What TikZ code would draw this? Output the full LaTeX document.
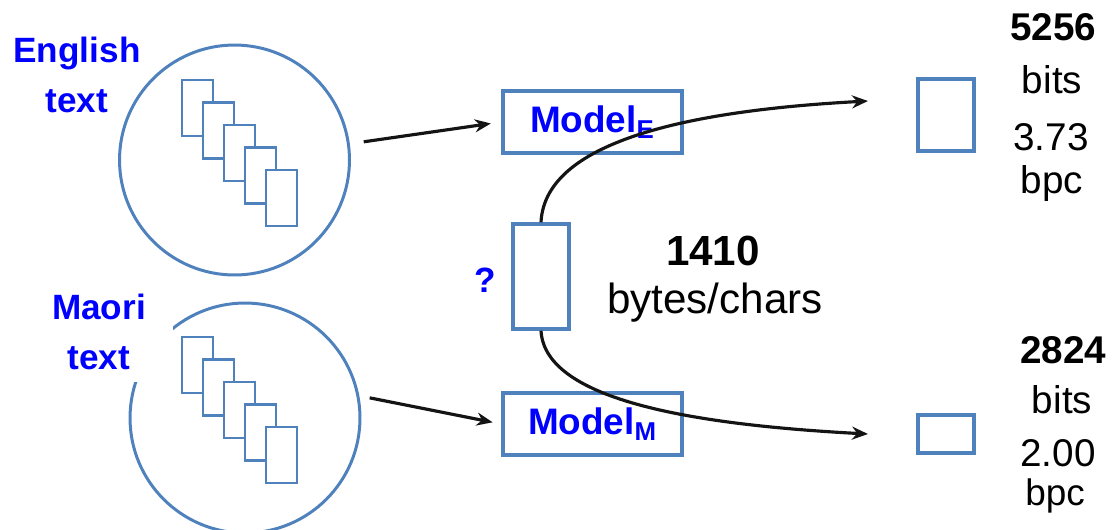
\documentclass[tikz,border=0pt]{standalone}
\usepackage{fontspec}
\setmainfont{Liberation Sans}
\usetikzlibrary{arrows.meta,calc}
\definecolor{steel}{RGB}{79,129,189}
\definecolor{pureblue}{RGB}{0,0,255}
\definecolor{ink}{RGB}{20,20,20}
\tikzset{
  >={Stealth[length=3.2mm,width=2.6mm]},
  corpus/.style={circle,draw=steel,line width=1.7pt,minimum size=4.6cm,inner sep=0pt},
  langtag/.style={text=pureblue,align=center,inner sep=0pt,
    font=\fontsize{20}{28.5}\selectfont\bfseries},
  model/.style={draw=steel,line width=2pt,fill=white,minimum width=3.58cm,
    minimum height=1.24cm,text=pureblue,font=\fontsize{21}{24}\selectfont\bfseries},
  slot/.style={draw=steel,line width=2pt,fill=white,inner sep=0pt},
  figure/.style={text=black,anchor=base,inner sep=0pt,font=\fontsize{#1}{#1}\selectfont},
  figure/.default=22,
  bold figure/.style={figure,font=\fontsize{#1}{#1}\selectfont\bfseries},
  bold figure/.default=22,
  flow/.style={->,line width=1.8pt,draw=ink},
  % pictograms
  pics/docstack/.style={code={
    \foreach \i in {0,...,4}
      \filldraw[fill=white,draw=steel,line width=1.6pt] (21*\i,22.5*\i) rectangle ++(31,56);
  }},
}
\begin{document}
\begin{tikzpicture}[x=0.02cm,y=-0.02cm]
  \useasboundingbox (0,0) rectangle (1118,529);
  \node[corpus] (eng) at (234.5,160) {};
  \node[corpus] (mao) at (245,418) {};
  \pic at (182,80) {docstack};
  \pic at (182,337) {docstack};
  \node[langtag] (engtag) at (77,75) {English\\text};
  \node[langtag,fill=white,minimum width=2.96cm,minimum height=2cm] (maotag) at (99,332) {Maori\\text};

  \node[model] (me) at (592.5,122) {Model\textsubscript{E}};
  \node[model] (mm) at (592.5,424) {Model\textsubscript{M}};
  \draw[flow,shorten <=8pt,shorten >=6pt] (eng.8) -- (me.west);
  \draw[flow,shorten <=6pt,shorten >=5pt] (mao.11) -- (mm.west);

  \node[slot,minimum width=1.12cm,minimum height=2.1cm] (q) at (541,276.5) {};
  \node[text=pureblue,font=\fontsize{20}{20}\selectfont\bfseries] (qmark) at (485,280) {?};
  \node[bold figure=24] (n1) at (713,265) {1410};
  \node[figure=24] (n2) at (715,313) {bytes/chars};

  \node[slot,minimum width=1.12cm,minimum height=1.44cm] (oute) at (946,115) {};
  \node[slot,minimum width=1.12cm,minimum height=0.76cm] (outm) at (946,434) {};
  \coordinate (tipe) at (868,101);
  \coordinate (tipm) at (868,434);
  \draw[flow] (q.north) .. controls +(4,-84) and +(-168,9) .. (tipe);
  \draw[flow] (q.south) .. controls +(4,71) and +(-168,-9) .. (tipm);

  \node[bold figure] (re1) at (1053,40) {5256};
  \foreach \t/\x/\y [count=\k from 2] in {bits/1052/93,3.73/1051/150,bpc/1052/193}
    \node[figure] (re\k) at (\x,\y) {\t};
  \node[bold figure] (rm1) at (1063,363) {2824};
  \foreach \t/\x/\y [count=\k from 2] in {bits/1062/413,2.00/1058/466}
    \node[figure] (rm\k) at (\x,\y) {\t};
  \node[figure=21] (rm4) at (1055,505) {bpc};
\end{tikzpicture}
\end{document}
